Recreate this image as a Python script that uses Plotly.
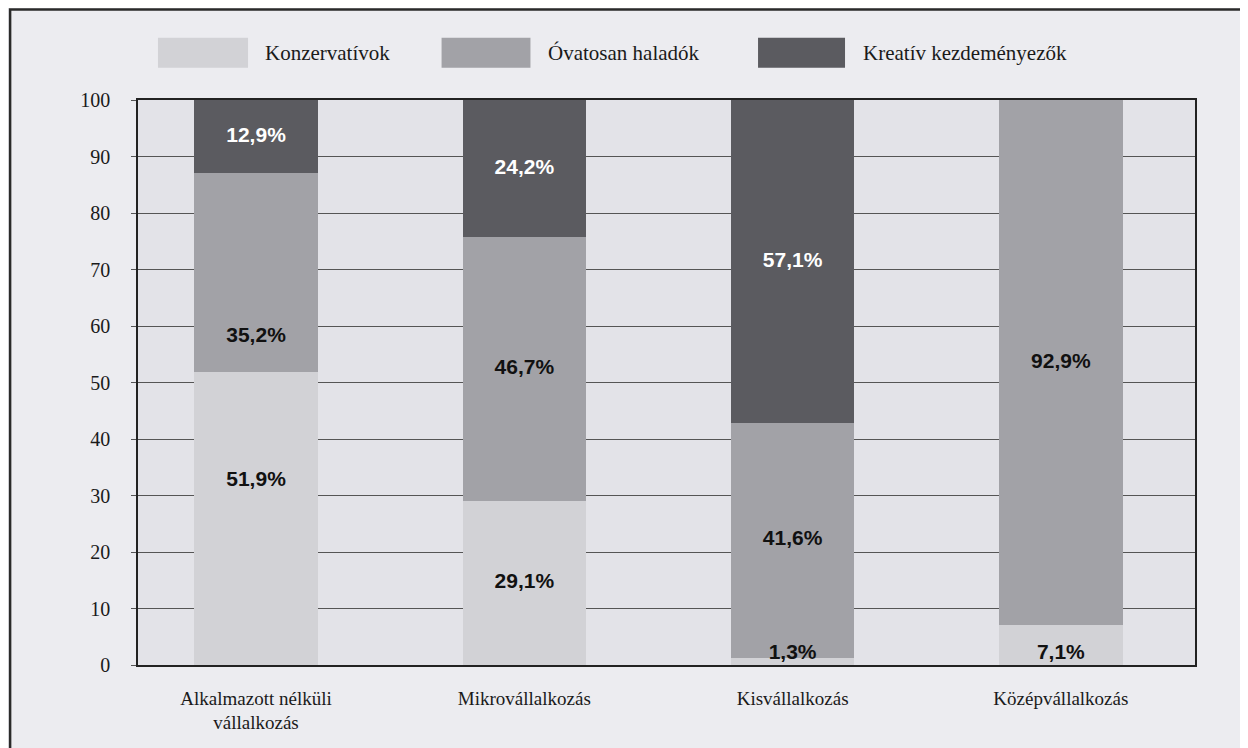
import plotly.graph_objects as go

categories = ["Alkalmazott nélküli<br>vállalkozás", "Mikrovállalkozás", "Kisvállalkozás", "Középvállalkozás"]
series_names = ["Konzervatívok", "Óvatosan haladók", "Kreatív kezdeményezők"]
konzervativok = [51.9, 29.1, 1.3, 7.1]
ovatosan = [35.2, 46.7, 41.6, 92.9]
kreativ = [12.9, 24.2, 57.1, 0.0]
y_ticks = list(range(0, 101, 10))

series_values = [konzervativok, ovatosan, kreativ]
colors = ["#d2d2d6", "#a2a2a7", "#5b5b60"]
label_colors = ["#111111", "#111111", "#ffffff"]
# the original shifts a couple of labels away from the segment middle
label_nudge = {(0, 0): 6.6, (1, 0): -11.4}

fig = go.Figure()

#stacked bars
for name, vals, col in zip(series_names, series_values, colors):
    fig.add_trace(go.Bar(x=categories, y=vals, name=name, width=0.46,
                         marker=dict(color=col, line=dict(width=0)),
                         showlegend=False, hoverinfo="skip"))

#value labels
base = [0.0] * len(categories)
for s, (vals, tcol) in enumerate(zip(series_values, label_colors)):
    xs, ys, txt = [], [], []
    for i, v in enumerate(vals):
        if v > 0:
            mid = base[i] + v / 2 + label_nudge.get((s, i), 0)
            if v < 10:
                mid = 2.0
            xs.append(categories[i])
            ys.append(mid)
            txt.append("<b>" + f"{v:.1f}".replace(".", ",") + "%</b>")
        base[i] += v
    fig.add_trace(go.Scatter(x=xs, y=ys, text=txt, mode="text", showlegend=False,
                             textfont=dict(family="Liberation Sans", size=21, color=tcol),
                             hoverinfo="skip"))

#hand made legend above the plot
shapes = []
annotations = []
legend_pos = [(0.0189, 0.1041, 0.1184), (0.2872, 0.3713, 0.3860), (0.5866, 0.6689, 0.6840)]
for (x0, x1, xt), name, col in zip(legend_pos, series_names, colors):
    shapes.append(dict(type="rect", xref="paper", yref="paper", x0=x0, x1=x1, y0=1.057, y1=1.110,
                       fillcolor=col, line=dict(width=0)))
    annotations.append(dict(xref="paper", yref="paper", x=xt, y=1.084, text=name, showarrow=False,
                            xanchor="left", yanchor="middle",
                            font=dict(family="Liberation Serif", size=21, color="#1a1a1a")))

#outer page frame
shapes.append(dict(type="rect", xref="paper", yref="paper", x0=-0.121, x1=1.0445, y0=-0.2, y1=1.160,
                   line=dict(color="#2a2a2a", width=2.5), fillcolor="rgba(0,0,0,0)", layer="below"))

fig.update_layout(
    width=1240, height=740, autosize=False,
    margin=dict(l=130, r=53, t=92, b=83),
    barmode="stack",
    paper_bgcolor="#ececf0",
    plot_bgcolor="#e3e3e8",
    shapes=shapes,
    annotations=annotations,
    font=dict(family="Liberation Serif", size=19, color="#1a1a1a"),
)
fig.update_xaxes(type="category", range=[-0.44, 3.50], showline=True, linecolor="#222222", linewidth=1.5,
                 mirror=True, showgrid=False, ticks="", ticklabelstandoff=15,
                 tickfont=dict(family="Liberation Serif", size=19, color="#1a1a1a"))
fig.update_yaxes(range=[0, 100], tickvals=y_ticks, showline=True, linecolor="#222222", linewidth=1.5,
                 mirror=True, showgrid=True, gridcolor="#555555", gridwidth=1, zeroline=False,
                 ticks="outside", ticklen=5, tickcolor="#555555", ticklabelstandoff=17,
                 tickfont=dict(family="Liberation Serif", size=20, color="#1a1a1a"))

fig.write_html("out.html")
